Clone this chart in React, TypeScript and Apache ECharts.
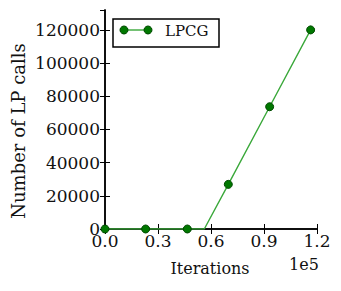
import React, { useEffect, useRef } from "react";
import * as echarts from "echarts";

const iterations = [0, 23000, 46600, 56200, 69800, 93200, 116400];
const lpCalls = [0, 0, 0, 0, 26900, 73700, 120000];
const markerShown = [true, true, true, false, true, true, true];
const seriesName = "LPCG";

const FONT = "DejaVu Serif";
const LINE_COLOR = "#3aa83a";
const MARKER_COLOR = "#007800";

export default function App() {
  const ref = useRef<HTMLDivElement>(null);
  useEffect(() => {
    if (!ref.current) return;
    const chart = echarts.init(ref.current, null, { renderer: "svg" });
    const data = iterations.map((x, i) => ({
      value: [x, lpCalls[i]],
      symbol: markerShown[i] ? "circle" : "none",
    }));
    const axisLine = { show: true, lineStyle: { color: "#000", width: 1.5 } };
    const axisTick = { show: true, inside: true, length: 5, lineStyle: { color: "#000", width: 1 } };
    const label = { fontFamily: FONT, fontSize: 17, color: "#111" };
    const txt = (size: number, extra: any) => ({ fontFamily: FONT, fontSize: size, fill: "#111", ...extra });
    chart.setOption({
      animation: false,
      backgroundColor: "#fff",
      grid: { left: 105, right: 24, top: 10, bottom: 62 },
      xAxis: [
        {
          type: "value",
          min: 0,
          max: 120000,
          interval: 30000,
          axisLine,
          axisTick,
          splitLine: { show: false },
          axisLabel: {
            ...label,
            margin: 3,
            formatter: (v: number) => (v / 100000).toFixed(1),
          },
        },
        {
          type: "value",
          position: "top",
          min: 0,
          max: 120000,
          interval: 30000,
          axisLine,
          axisTick,
          splitLine: { show: false },
          axisLabel: { show: false },
        },
      ],
      yAxis: [
        {
          type: "value",
          min: 0,
          max: 132000,
          interval: 20000,
          axisLine,
          axisTick,
          splitLine: { show: false },
          axisLabel: { ...label, margin: 5, showMaxLabel: false, formatter: (v: number) => String(v) },
        },
        {
          type: "value",
          position: "right",
          min: 0,
          max: 132000,
          interval: 20000,
          axisLine,
          axisTick,
          splitLine: { show: false },
          axisLabel: { show: false },
        },
      ],
      series: [
        {
          name: seriesName,
          type: "line",
          data,
          symbolSize: 8,
          showAllSymbol: true,
          lineStyle: { color: LINE_COLOR, width: 1.4 },
          itemStyle: { color: MARKER_COLOR, borderColor: "#004a00", borderWidth: 1 },
        },
      ],
      graphic: [
        {
          type: "rect",
          shape: { x: 113, y: 19, width: 106, height: 28 },
          style: { fill: "#fff", stroke: "#000", lineWidth: 1.5 },
          z: 100,
        },
        {
          type: "line",
          shape: { x1: 124, y1: 30, x2: 148, y2: 30 },
          style: { stroke: LINE_COLOR, lineWidth: 1.4 },
          z: 101,
        },
        {
          type: "circle",
          shape: { cx: 124, cy: 30, r: 4 },
          style: { fill: MARKER_COLOR, stroke: "#004a00", lineWidth: 1 },
          z: 102,
        },
        {
          type: "circle",
          shape: { cx: 148, cy: 30, r: 4 },
          style: { fill: MARKER_COLOR, stroke: "#004a00", lineWidth: 1 },
          z: 102,
        },
        {
          type: "text",
          x: 165,
          y: 31,
          style: txt(15, { text: seriesName, verticalAlign: "middle" }),
          z: 102,
        },
        {
          type: "text",
          x: 210,
          y: 268,
          style: txt(16, { text: "Iterations", align: "center", verticalAlign: "middle" }),
        },
        {
          type: "text",
          x: 289,
          y: 264,
          style: txt(16, { text: "1e5", verticalAlign: "middle" }),
        },
        {
          type: "text",
          x: 18,
          y: 131,
          rotation: Math.PI / 2,
          style: txt(18, { text: "Number of LP calls", align: "center", verticalAlign: "middle" }),
        },
      ],
    });
    return () => chart.dispose();
  }, []);
  return <div ref={ref} style={{ width: 341, height: 291, position: "absolute", left: 0, top: 0 }} />;
}
